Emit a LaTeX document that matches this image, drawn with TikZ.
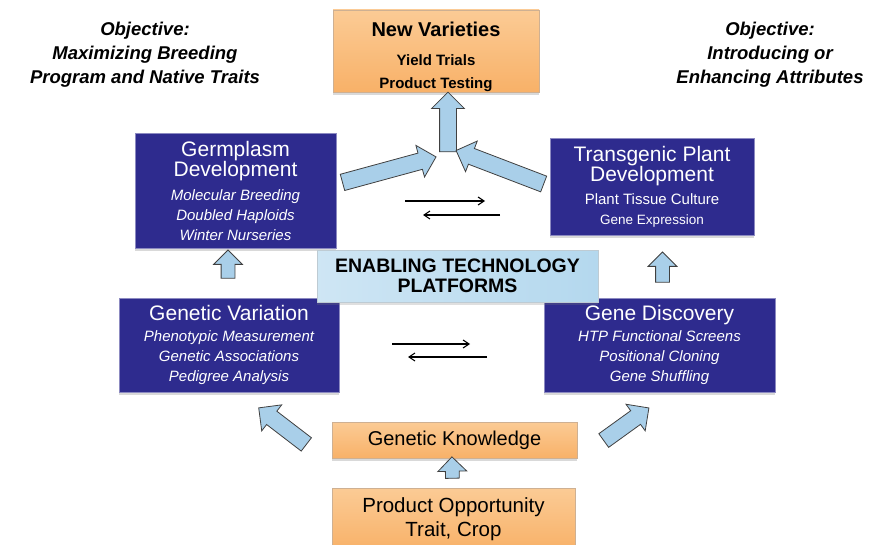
\documentclass[tikz,border=0pt]{standalone}
\usepackage{fontspec}
\setmainfont{Liberation Sans}
\usetikzlibrary{positioning,arrows.meta,shapes.arrows,calc,shadows}

\definecolor{deepblue}{HTML}{2E2B8E}
\definecolor{paleblue}{HTML}{A9CFE9}
\definecolor{platblue}{HTML}{B4D8EE}
\definecolor{apricot}{HTML}{F8B168}
\definecolor{apricotlt}{HTML}{FBCB95}

\tikzset{
bluebox/.style={
  rectangle,
  fill=deepblue,
  draw=deepblue!55!white,
  line width=0.8pt,
  text=white,
  align=center,
  inner sep=0pt,
  font=\boxsub,
  drop shadow={opacity=0.3,shadow xshift=0pt,shadow yshift=-3pt}
  },
orangebox/.style={
  rectangle,
  top color=apricotlt,
  bottom color=apricot,
  draw=apricot!70!black!60,
  line width=0.6pt,
  text=black,
  align=center,
  inner sep=0pt,
  drop shadow={opacity=0.3,shadow xshift=0pt,shadow yshift=-3pt}
  },
platbox/.style={
  rectangle,
  left color=platblue!65!white,
  right color=platblue,
  draw=platblue!70!black!50,
  line width=0.6pt,
  text=black,
  align=center,
  inner sep=0pt,
  drop shadow={opacity=0.25,shadow xshift=0pt,shadow yshift=-3pt}
  },
fatarrow/.style={
  single arrow,
  draw=black!75,
  line width=0.8pt,
  fill=paleblue,
  inner xsep=0pt,
  inner ysep=8pt,
  single arrow head extend=8pt
  },
slimarrow/.style={fatarrow,inner ysep=6.5pt,single arrow head extend=7.5pt},
thinarrow/.style={-{Straight Barb[length=6pt,width=8pt]},line width=1.1pt},
objtext/.style={align=center,font=\bfseries\itshape\fontsize{18.5}{24}\selectfont}
}

\newcommand\blockarrow[3][]{%
  \path let \p1=#2, \p2=#3,
    \n1={atan2(\y2-\y1,\x2-\x1)},
    \n2={veclen(\x2-\x1,\y2-\y1)} in
    node[fatarrow,rotate=\n1,minimum height=\n2,#1] at ($#2!.5!#3$) {};}
\newcommand\boxtitle{\fontsize{21}{20}\selectfont\upshape}
\newcommand\boxsub{\fontsize{15}{20}\selectfont}

\begin{document}
\begin{tikzpicture}[x=1pt,y=-1pt]
\useasboundingbox (0,0) rectangle (874,545);

% objectives
\node[objtext] (objl) at (145,55) {Objective:\\Maximizing Breeding\\Program and Native Traits};
\node[objtext] (objr) at (770,55) {Objective:\\Introducing or\\Enhancing Attributes};

% top and bottom boxes
\node[orangebox,minimum width=206pt,minimum height=82pt] (newvar) at (436,51) {};
\node[align=center,inner sep=0pt,font=\bfseries\fontsize{15}{23}\selectfont]
  (newvartext) at ($(newvar.center)+(0,6)$)
  {\fontsize{20}{23}\selectfont New Varieties\\[6pt]
   Yield Trials\\Product Testing};
\node[orangebox,minimum width=245pt,minimum height=36pt,
  font=\fontsize{20}{24}\selectfont] (know) at (454.5,440)
  {Genetic Knowledge};
\node[orangebox,minimum width=243pt,minimum height=63pt,
  font=\fontsize{20.5}{24}\selectfont] (prod) at (453.5,519.5)
  {Product Opportunity\\Trait, Crop};

% blue boxes
\node[bluebox,minimum width=201pt,minimum height=115pt,font=\boxsub\itshape] (germ) at (235.5,190.5)
  {\boxtitle Germplasm\\\boxtitle Development\\[4pt]
   Molecular Breeding\\Doubled Haploids\\Winter Nurseries};
\node[bluebox,minimum width=204pt,minimum height=97pt] (trans) at (652,186.5)
  {\boxtitle Transgenic Plant\\\boxtitle Development\\[3pt]
   Plant Tissue Culture\\\fontsize{13.5}{20}\selectfont Gene Expression};
\node[bluebox,minimum width=220pt,minimum height=94pt,font=\boxsub\itshape] (genvar) at (229,345)
  {\boxtitle Genetic Variation\\[1pt]
   Phenotypic Measurement\\Genetic Associations\\Pedigree Analysis};
\node[bluebox,minimum width=231pt,minimum height=94pt,font=\boxsub\itshape] (gendisc) at (659.5,345)
  {\boxtitle Gene Discovery\\[1pt]
   HTP Functional Screens\\Positional Cloning\\Gene Shuffling};

% platforms
\node[platbox,minimum width=281pt,minimum height=52pt,
  font=\bfseries\fontsize{19.5}{20}\selectfont] (plat) at (457.5,276)
  {ENABLING TECHNOLOGY\\PLATFORMS};

% block arrows
\coordinate (hub) at (448,156);
\blockarrow[name=toup]{(hub)}{($(hub |- newvar.south)+(0,4)$)}
\blockarrow[name=fromgerm]{($(germ.east)+(2,-7)$)}{($(hub)+(-16,2)$)}
\blockarrow[name=fromtrans]{($(trans.west)+(-2,-1)$)}{($(hub)+(12,-4)$)}
\blockarrow[name=upleft,slimarrow]{($(genvar.north)+(-1,-16)$)}{($(germ.south)+(-7.5,5)$)}
\blockarrow[name=upright,slimarrow]{($(gendisc.north)+(3,-12)$)}{($(trans.south)+(10.5,20)$)}
\blockarrow[name=diagleft]{($(know.west)+(-22,7)$)}{($(genvar.south)+(33,18)$)}
\blockarrow[name=diagright]{($(know.east)+(23,3)$)}{($(gendisc.south)+(-14,18)$)}
\blockarrow[name=upknow,slimarrow]{($(prod.north)+(-1,-6)$)}{($(know.south)+(-2.5,2)$)}

% thin arrows
\coordinate (ta) at (405,201);
\coordinate (tb) at (485,201);
\coordinate (tc) at (500,215);
\coordinate (td) at (423,215);
\coordinate (ba) at (392,344);
\coordinate (bb) at (470,344);
\coordinate (bc) at (487,357);
\coordinate (bd) at (408,357);
\draw[thinarrow] (ta) -- (tb);
\draw[thinarrow] (tc) -- (td);
\draw[thinarrow] (ba) -- (bb);
\draw[thinarrow] (bc) -- (bd);

\end{tikzpicture}
\end{document}
